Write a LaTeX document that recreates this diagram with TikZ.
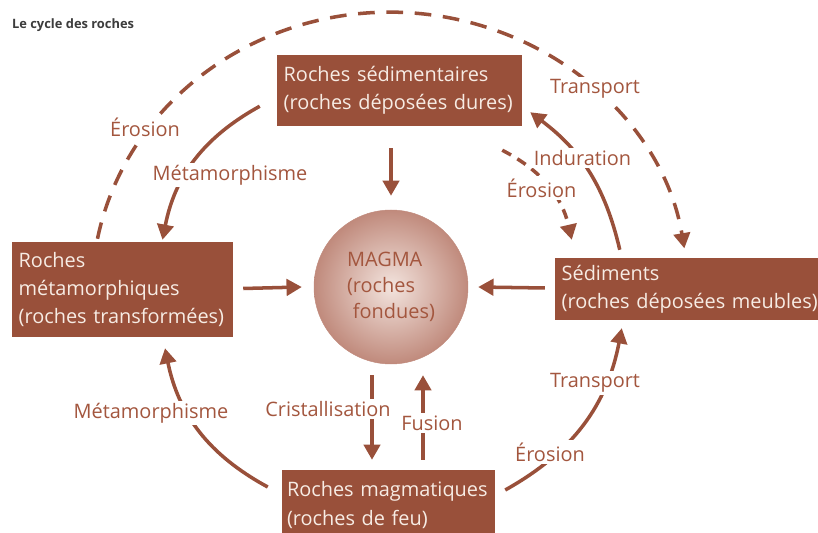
\documentclass[tikz,border=0pt]{standalone}
\usepackage{fontspec}
\setmainfont{Open Sans}
\usetikzlibrary{arrows.meta,calc}

\definecolor{rockbrown}{RGB}{153,80,58}
\definecolor{labelbrown}{RGB}{163,86,62}
\definecolor{boxtext}{RGB}{247,236,228}
\definecolor{magmacore}{RGB}{243,228,222}
\definecolor{magmaedge}{RGB}{192,138,124}
\definecolor{titlegray}{RGB}{60,60,60}

\begin{document}
\begin{tikzpicture}[x=0.03cm,y=0.03cm,
  >={Triangle[length=13pt,width=14pt]},
  every node/.style={font=\fontsize{17}{24}\selectfont},
  rock/.style={fill=rockbrown, text=boxtext, align=left, inner xsep=0.2cm, inner ysep=0pt,
    execute at begin node={\hyphenpenalty=10000}},
  lbl/.style={text=labelbrown, fill=white, inner sep=2pt},
  flow/.style={rockbrown, line width=3pt},
  dashflow/.style={flow, dash pattern=on 0.5cm off 0.35cm}]
\useasboundingbox (0,0) rectangle (818,532);

\node (title) [anchor=west, text=titlegray, font=\fontsize{11}{13}\bfseries] at (8,507) {Le cycle des roches};

% rocks and magma
\node (sed) [rock, text width=6.95cm, minimum height=2.13cm] at (399.5,441.5) {Roches~sédimentaires\\(roches~déposées~dures)};
\node (meta) [rock, text width=6.23cm, minimum height=2.85cm] at (122.5,242.5) {Roches\\métamorphiques\\(roches~transformées)};
\node (sediments) [rock, text width=8cm, minimum height=1.86cm] at (695,243) {Sédiments\\(roches~déposées~meubles)};
\node (magmatiques) [rock, inner xsep=0.15cm, text width=6.09cm, minimum height=2.1cm] at (388.5,27) {Roches~magmatiques\\(roches~de~feu)};
\node (magma) [circle, minimum size=4.62cm, inner color=magmacore, outer color=magmaedge,
  draw=magmaedge, text=labelbrown, align=left, font=\fontsize{17}{22}\selectfont] at (391,245)
  {MAGMA\\(roches\\\hphantom{(}fondues)};

% straight arrows
\draw [flow,->] ($(magma.center |- sed.south)+(0,-22)$) -- ($(magma.north)+(0,14)$);
\draw [flow,->] ($(meta.east)+(10,1)$) -- ($(magma.west)+(-12,0)$);
\draw [flow,->] ($(sediments.west)+(-10,1)$) -- ($(magma.east)+(10,0)$);
\draw [flow,->] ($(magma.south)+(-19,-11)$) -- ($(magmatiques.north)+(-16.5,10)$);
\draw [flow,->] ($(magmatiques.north)+(34.5,10)$) -- ($(magma.south)+(32,-11)$);

% curved arrows
\draw [dashflow,->] ($(meta.north)+(-25,3)$) arc [start angle=169, end angle=9, x radius=298, y radius=280];
\draw [flow,->] ($(sed.south west)+(-17,20)$) to [bend right=25] ($(meta.north)+(40,2)$);
\draw [flow,->] ($(sediments.north west)+(65,8)$) to [bend right=20] ($(sed.south east)+(8,14)$);
\draw [flow, dash pattern=on 0.3cm off 0.22cm, ->] ($(sed.south east)+(-20,-24)$) to [bend left=25] ($(sediments.north west)+(17,18)$);
\draw [flow,->] ($(magmatiques.east)+(10,15)$) to [bend right=25] ($(sediments.south west)+(67,-8)$);
\draw [flow,->] ($(magmatiques.west)+(-14,18)$) to [bend left=25] ($(meta.south)+(42.5,-11)$);

% labels
\node (erosionA) [lbl] at (145,405) {Érosion};
\node (transportA) [lbl] at (595,443) {Transport};
\node (metamA) [lbl] at (230,357) {Métamorphisme};
\node (induration) [lbl] at (582.5,374) {Induration};
\node (erosionB) [lbl] at (541.5,344) {Érosion};
\node (cristal) [lbl] at (328,123) {Cristallisation};
\node (fusion) [lbl] at (432,109) {Fusion};
\node (metamB) [lbl] at (151,119) {Métamorphisme};
\node (erosionC) [lbl] at (550,80) {Érosion};
\node (transportC) [lbl] at (595,149) {Transport};

\end{tikzpicture}
\end{document}
